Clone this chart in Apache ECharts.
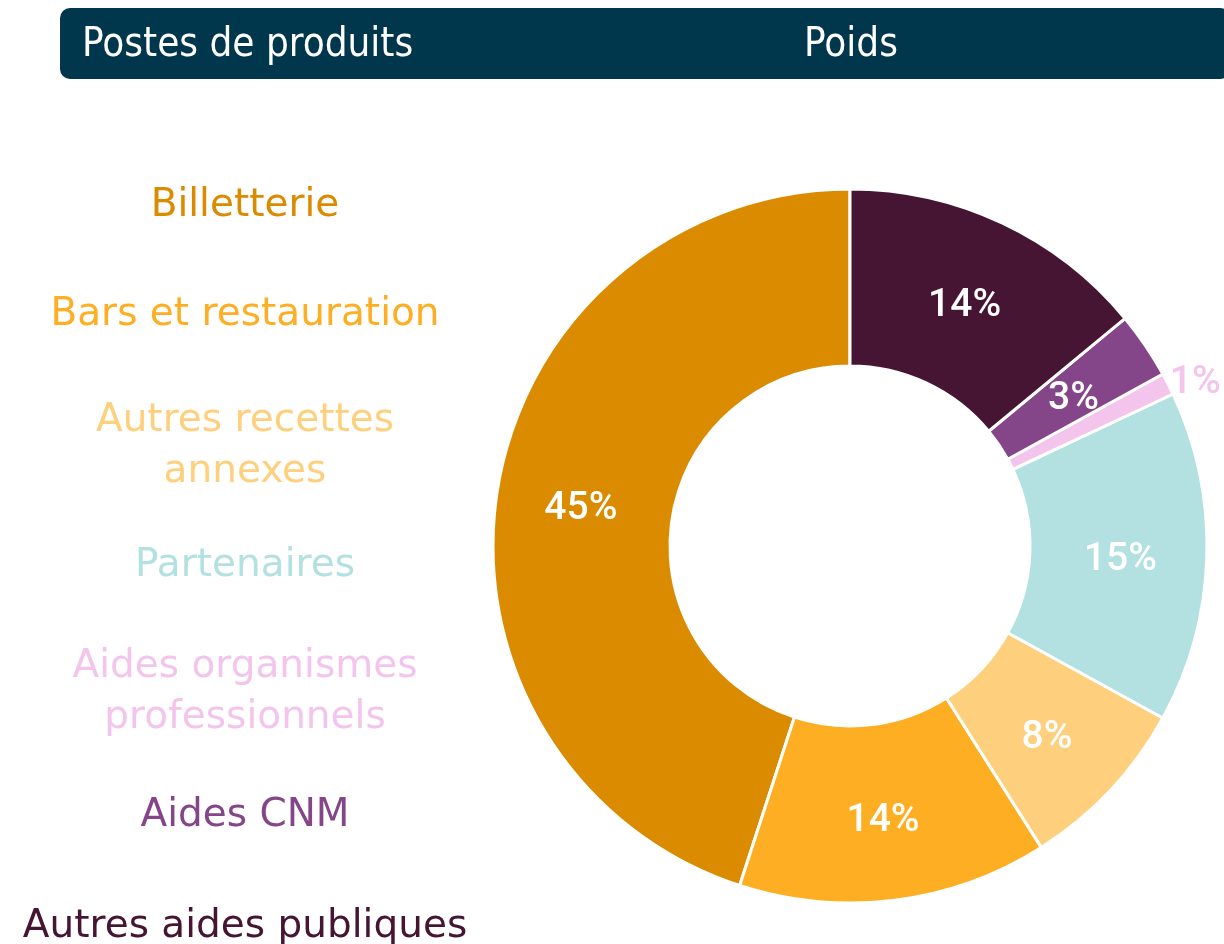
<!DOCTYPE html>
<html><head><meta charset="utf-8">
<script src="https://cdn.jsdelivr.net/npm/echarts@6/dist/echarts.min.js"></script>
<style>html,body{margin:0;padding:0;background:#fff}#c{width:1224px;height:944px}</style>
</head><body><div id="c"></div>
<script>
const categories = ['Billetterie','Bars et restauration','Autres recettes annexes','Partenaires','Aides organismes professionnels','Aides CNM','Autres aides publiques'];
const displayLabels = ['Billetterie','Bars et restauration','Autres recettes\nannexes','Partenaires','Aides organismes\nprofessionnels','Aides CNM','Autres aides publiques'];
const weights = [45, 14, 8, 15, 1, 3, 14];
const colors = ['#db8b00','#feae22','#fed07e','#b3e0e0','#f3c5ec','#844688','#461533'];
const headerLeft = 'Postes de produits';
const headerRight = 'Poids';

const labelY = [206, 315, 446, 566, 692, 816, 927];

const chart = echarts.init(document.getElementById('c'), null, {renderer:'canvas'});
const graphics = [
  {type:'rect', shape:{x:60,y:8,width:1170,height:71,r:10}, style:{fill:'#01374c'}},
  {type:'text', x:82, y:46, style:{text:headerLeft, fill:'#fff', font:'40px "Liberation Sans Narrow", "DejaVu Sans Condensed", sans-serif', textVerticalAlign:'middle'}},
  {type:'text', x:851, y:46, style:{text:headerRight, fill:'#fff', font:'40px "Liberation Sans Narrow", "DejaVu Sans Condensed", sans-serif', textAlign:'center', textVerticalAlign:'middle'}}
];
displayLabels.forEach((t,i)=>{
  graphics.push({type:'text', x:245, y:labelY[i], style:{text:t, fill:colors[i], font:'39px "DejaVu Sans", sans-serif', lineHeight:51, textAlign:'center', textVerticalAlign:'middle'}});
});
chart.setOption({
  animation:false,
  graphic: graphics,
  series:[{
    type:'pie',
    center:[850,546],
    radius:[180,357],
    startAngle:90,
    clockwise:false,
    itemStyle:{borderColor:'#fff', borderWidth:3},
    label:{show:true, position:'inside', color:'#fff', fontFamily:'Roboto', fontSize:39, fontWeight:500, offset:[-1,6], formatter: p => p.value + '%'},
    labelLine:{show:false},
    data: categories.map((c,i)=>{
      const d = {name:c, value:weights[i], itemStyle:{color:colors[i]}};
      if (weights[i] < 2) {
        d.label = {position:'outside', color:colors[i], distanceToLabelLine:0, overflow:'none', offset:[0,0]};
        d.labelLine = {show:false, length:2, length2:0};
      }
      return d;
    })
  }]
});
</script></body></html>
